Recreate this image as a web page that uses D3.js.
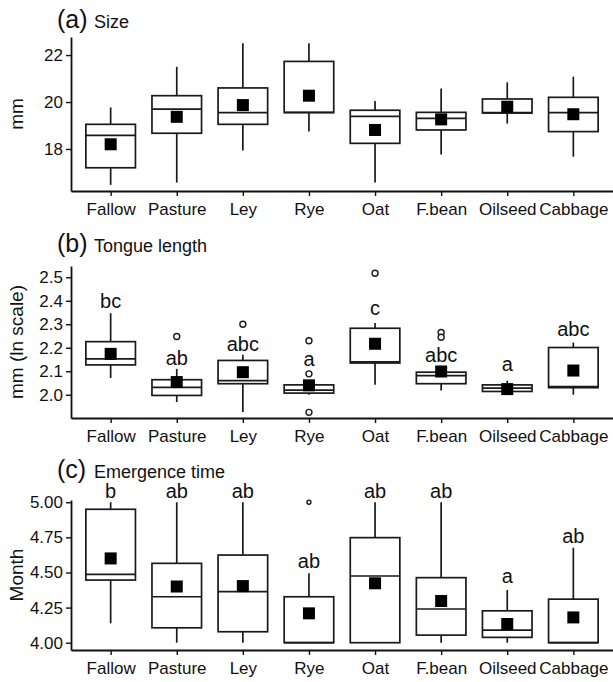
<!DOCTYPE html>
<html>
<head>
<meta charset="utf-8">
<script src="https://cdn.jsdelivr.net/npm/d3@7/dist/d3.min.js"></script>
<style>
body { margin: 0; background: #fff; }
text { font-family: "Liberation Sans", Arial, sans-serif; fill: #111; }
</style>
</head>
<body>
<svg></svg>
<script>
var categories = ["Fallow", "Pasture", "Ley", "Rye", "Oat", "F.bean", "Oilseed", "Cabbage"];

// (a) Size, mm
var sizeLow  = [16.47, 16.57, 17.93, 18.74, 16.57, 17.77, 19.08, 17.67];
var sizeQ1   = [17.20, 18.67, 19.05, 19.55, 18.24, 18.81, 19.53, 18.74];
var sizeMed  = [18.58, 19.70, 19.55, 19.56, 19.39, 19.30, 19.55, 19.55];
var sizeQ3   = [19.05, 20.27, 20.60, 21.73, 19.65, 19.56, 20.13, 20.20];
var sizeHigh = [19.77, 21.50, 22.50, 22.50, 20.04, 20.58, 20.84, 21.08];
var sizeMean = [18.20, 19.37, 19.87, 20.27, 18.81, 19.26, 19.80, 19.48];
var sizeTicks = [18, 20, 22];

// (b) Tongue length, mm (ln scale)
var tongueLow  = [2.071, 1.969, 1.927, 2.000, 2.042, 2.018, 2.005, 2.000];
var tongueQ1   = [2.127, 1.997, 2.047, 2.007, 2.135, 2.047, 2.014, 2.030];
var tongueMed  = [2.153, 2.031, 2.060, 2.020, 2.140, 2.081, 2.028, 2.035];
var tongueQ3   = [2.226, 2.064, 2.146, 2.042, 2.283, 2.096, 2.042, 2.201];
var tongueHigh = [2.347, 2.110, 2.170, 2.060, 2.305, 2.110, 2.060, 2.222];
var tongueMean = [2.174, 2.054, 2.096, 2.040, 2.217, 2.099, 2.024, 2.103];
var tongueOut  = [[], [2.248], [2.300], [2.230, 2.089, 1.925], [2.517], [2.265, 2.245], [], []];
var tongueLetters = ["bc", "ab", "abc", "a", "c", "abc", "a", "abc"];
var tongueLetterY = [2.370, 2.127, 2.188, 2.123, 2.340, 2.141, 2.099, 2.248];
var tongueTicks = [2.0, 2.1, 2.2, 2.3, 2.4, 2.5];

// (c) Emergence time, month
var monthLow  = [4.138, 4.000, 4.000, 4.000, 4.000, 4.000, 4.000, 4.000];
var monthQ1   = [4.446, 4.106, 4.078, 4.000, 4.000, 4.054, 4.038, 4.000];
var monthMed  = [4.487, 4.327, 4.363, 4.000, 4.475, 4.240, 4.090, 4.000];
var monthQ3   = [4.950, 4.565, 4.624, 4.327, 4.748, 4.463, 4.227, 4.310];
var monthHigh = [5.000, 5.000, 5.000, 4.494, 5.000, 5.000, 4.375, 4.676];
var monthMean = [4.600, 4.400, 4.403, 4.209, 4.423, 4.297, 4.133, 4.180];
var monthOut  = [[], [], [], [5.0], [], [], [], []];
var monthLetters = ["b", "ab", "ab", "ab", "ab", "ab", "a", "ab"];
var monthLetterY = [5.03, 5.03, 5.03, 4.535, 5.03, 5.03, 4.427, 4.712];
var monthTicks = [4.00, 4.25, 4.50, 4.75, 5.00];

var panels = [
  { tag: "(a)", title: "Size", ylab: "mm", top: 37, bottom: 191, titleY: 28,
    domain: [16.21, 22.77], ticks: sizeTicks, fmt: "d",
    low: sizeLow, q1: sizeQ1, med: sizeMed, q3: sizeQ3, high: sizeHigh, mean: sizeMean,
    out: null, letters: null, letterY: null, outR: 3 },
  { tag: "(b)", title: "Tongue length", ylab: "mm (ln scale)", top: 266, bottom: 418, titleY: 252,
    domain: [1.901, 2.548], ticks: tongueTicks, fmt: ".1f",
    low: tongueLow, q1: tongueQ1, med: tongueMed, q3: tongueQ3, high: tongueHigh, mean: tongueMean,
    out: tongueOut, letters: tongueLetters, letterY: tongueLetterY, outR: 3 },
  { tag: "(c)", title: "Emergence time", ylab: "Month", top: 500, bottom: 650, titleY: 478,
    domain: [3.948, 5.016], ticks: monthTicks, fmt: ".2f",
    low: monthLow, q1: monthQ1, med: monthMed, q3: monthQ3, high: monthHigh, mean: monthMean,
    out: monthOut, letters: monthLetters, letterY: monthLetterY, outR: 2 }
];

var width = 613, height = 682, left = 71;
var svg = d3.select("svg").attr("width", width).attr("height", height);

var x = d3.scalePoint().domain(categories).range([left, width]).padding(0.6);
var boxW = x.step() * 0.75;

function drawPanel(p) {
  var g = svg.append("g");
  var y = d3.scaleLinear().domain(p.domain).range([p.bottom, p.top]);

  var yAxis = g.append("g")
    .attr("transform", "translate(" + left + ",0)")
    .call(d3.axisLeft(y).tickValues(p.ticks).tickFormat(d3.format(p.fmt))
      .tickSize(5).tickSizeOuter(0).tickPadding(3));
  var xAxis = g.append("g")
    .attr("transform", "translate(0," + p.bottom + ")")
    .call(d3.axisBottom(x).tickSize(5).tickSizeOuter(0).tickPadding(7));

  [yAxis, xAxis].forEach(function(a) {
    a.select(".domain").attr("stroke", "#111").attr("stroke-width", 1.8);
    a.selectAll(".tick line").attr("stroke", "#111").attr("stroke-width", 1.4);
    a.selectAll(".tick text").attr("font-size", 17).attr("fill", "#111")
      .style("font-family", '"Liberation Sans", Arial, sans-serif');
  });

  // titles
  g.append("text").attr("x", 57).attr("y", p.titleY).attr("font-size", 25).text(p.tag);
  g.append("text").attr("x", 94).attr("y", p.titleY).attr("font-size", 18).text(p.title);
  g.append("text")
    .attr("transform", "translate(23," + (p.top + p.bottom) / 2 + ") rotate(-90)")
    .attr("text-anchor", "middle").attr("font-size", 19).text(p.ylab);

  var boxes = g.selectAll(".box").data(categories).enter().append("g").attr("class", "box");
  var stroke = "#1a1a1a", sw = 1.7;

  boxes.append("line")
    .attr("x1", function(d) { return x(d); }).attr("x2", function(d) { return x(d); })
    .attr("y1", function(d, i) { return y(p.high[i]); })
    .attr("y2", function(d, i) { return y(p.q3[i]); })
    .attr("stroke", stroke).attr("stroke-width", sw);
  boxes.append("line")
    .attr("x1", function(d) { return x(d); }).attr("x2", function(d) { return x(d); })
    .attr("y1", function(d, i) { return y(p.q1[i]); })
    .attr("y2", function(d, i) { return y(p.low[i]); })
    .attr("stroke", stroke).attr("stroke-width", sw);
  boxes.append("rect")
    .attr("x", function(d) { return x(d) - boxW / 2; })
    .attr("width", boxW)
    .attr("y", function(d, i) { return y(p.q3[i]); })
    .attr("height", function(d, i) { return y(p.q1[i]) - y(p.q3[i]); })
    .attr("fill", "#fff").attr("stroke", stroke).attr("stroke-width", sw);
  boxes.append("line")
    .attr("x1", function(d) { return x(d) - boxW / 2; })
    .attr("x2", function(d) { return x(d) + boxW / 2; })
    .attr("y1", function(d, i) { return y(p.med[i]); })
    .attr("y2", function(d, i) { return y(p.med[i]); })
    .attr("stroke", stroke).attr("stroke-width", sw);

  if (p.out) {
    boxes.each(function(d, i) {
      d3.select(this).selectAll("circle").data(p.out[i]).enter().append("circle")
        .attr("cx", x(d)).attr("cy", function(v) { return y(v); })
        .attr("r", p.outR).attr("fill", "#fff")
        .attr("stroke", stroke).attr("stroke-width", 1.4);
    });
  }

  // mean squares
  var sq = 12;
  boxes.append("rect")
    .attr("x", function(d) { return x(d) - sq / 2; })
    .attr("y", function(d, i) { return y(p.mean[i]) - sq / 2; })
    .attr("width", sq).attr("height", sq)
    .attr("fill", "#000");

  if (p.letters) {
    boxes.append("text")
      .attr("x", function(d) { return x(d); })
      .attr("y", function(d, i) { return y(p.letterY[i]); })
      .attr("text-anchor", "middle").attr("font-size", 20)
      .text(function(d, i) { return p.letters[i]; });
  }
}

panels.forEach(drawPanel);
</script>
</body>
</html>
